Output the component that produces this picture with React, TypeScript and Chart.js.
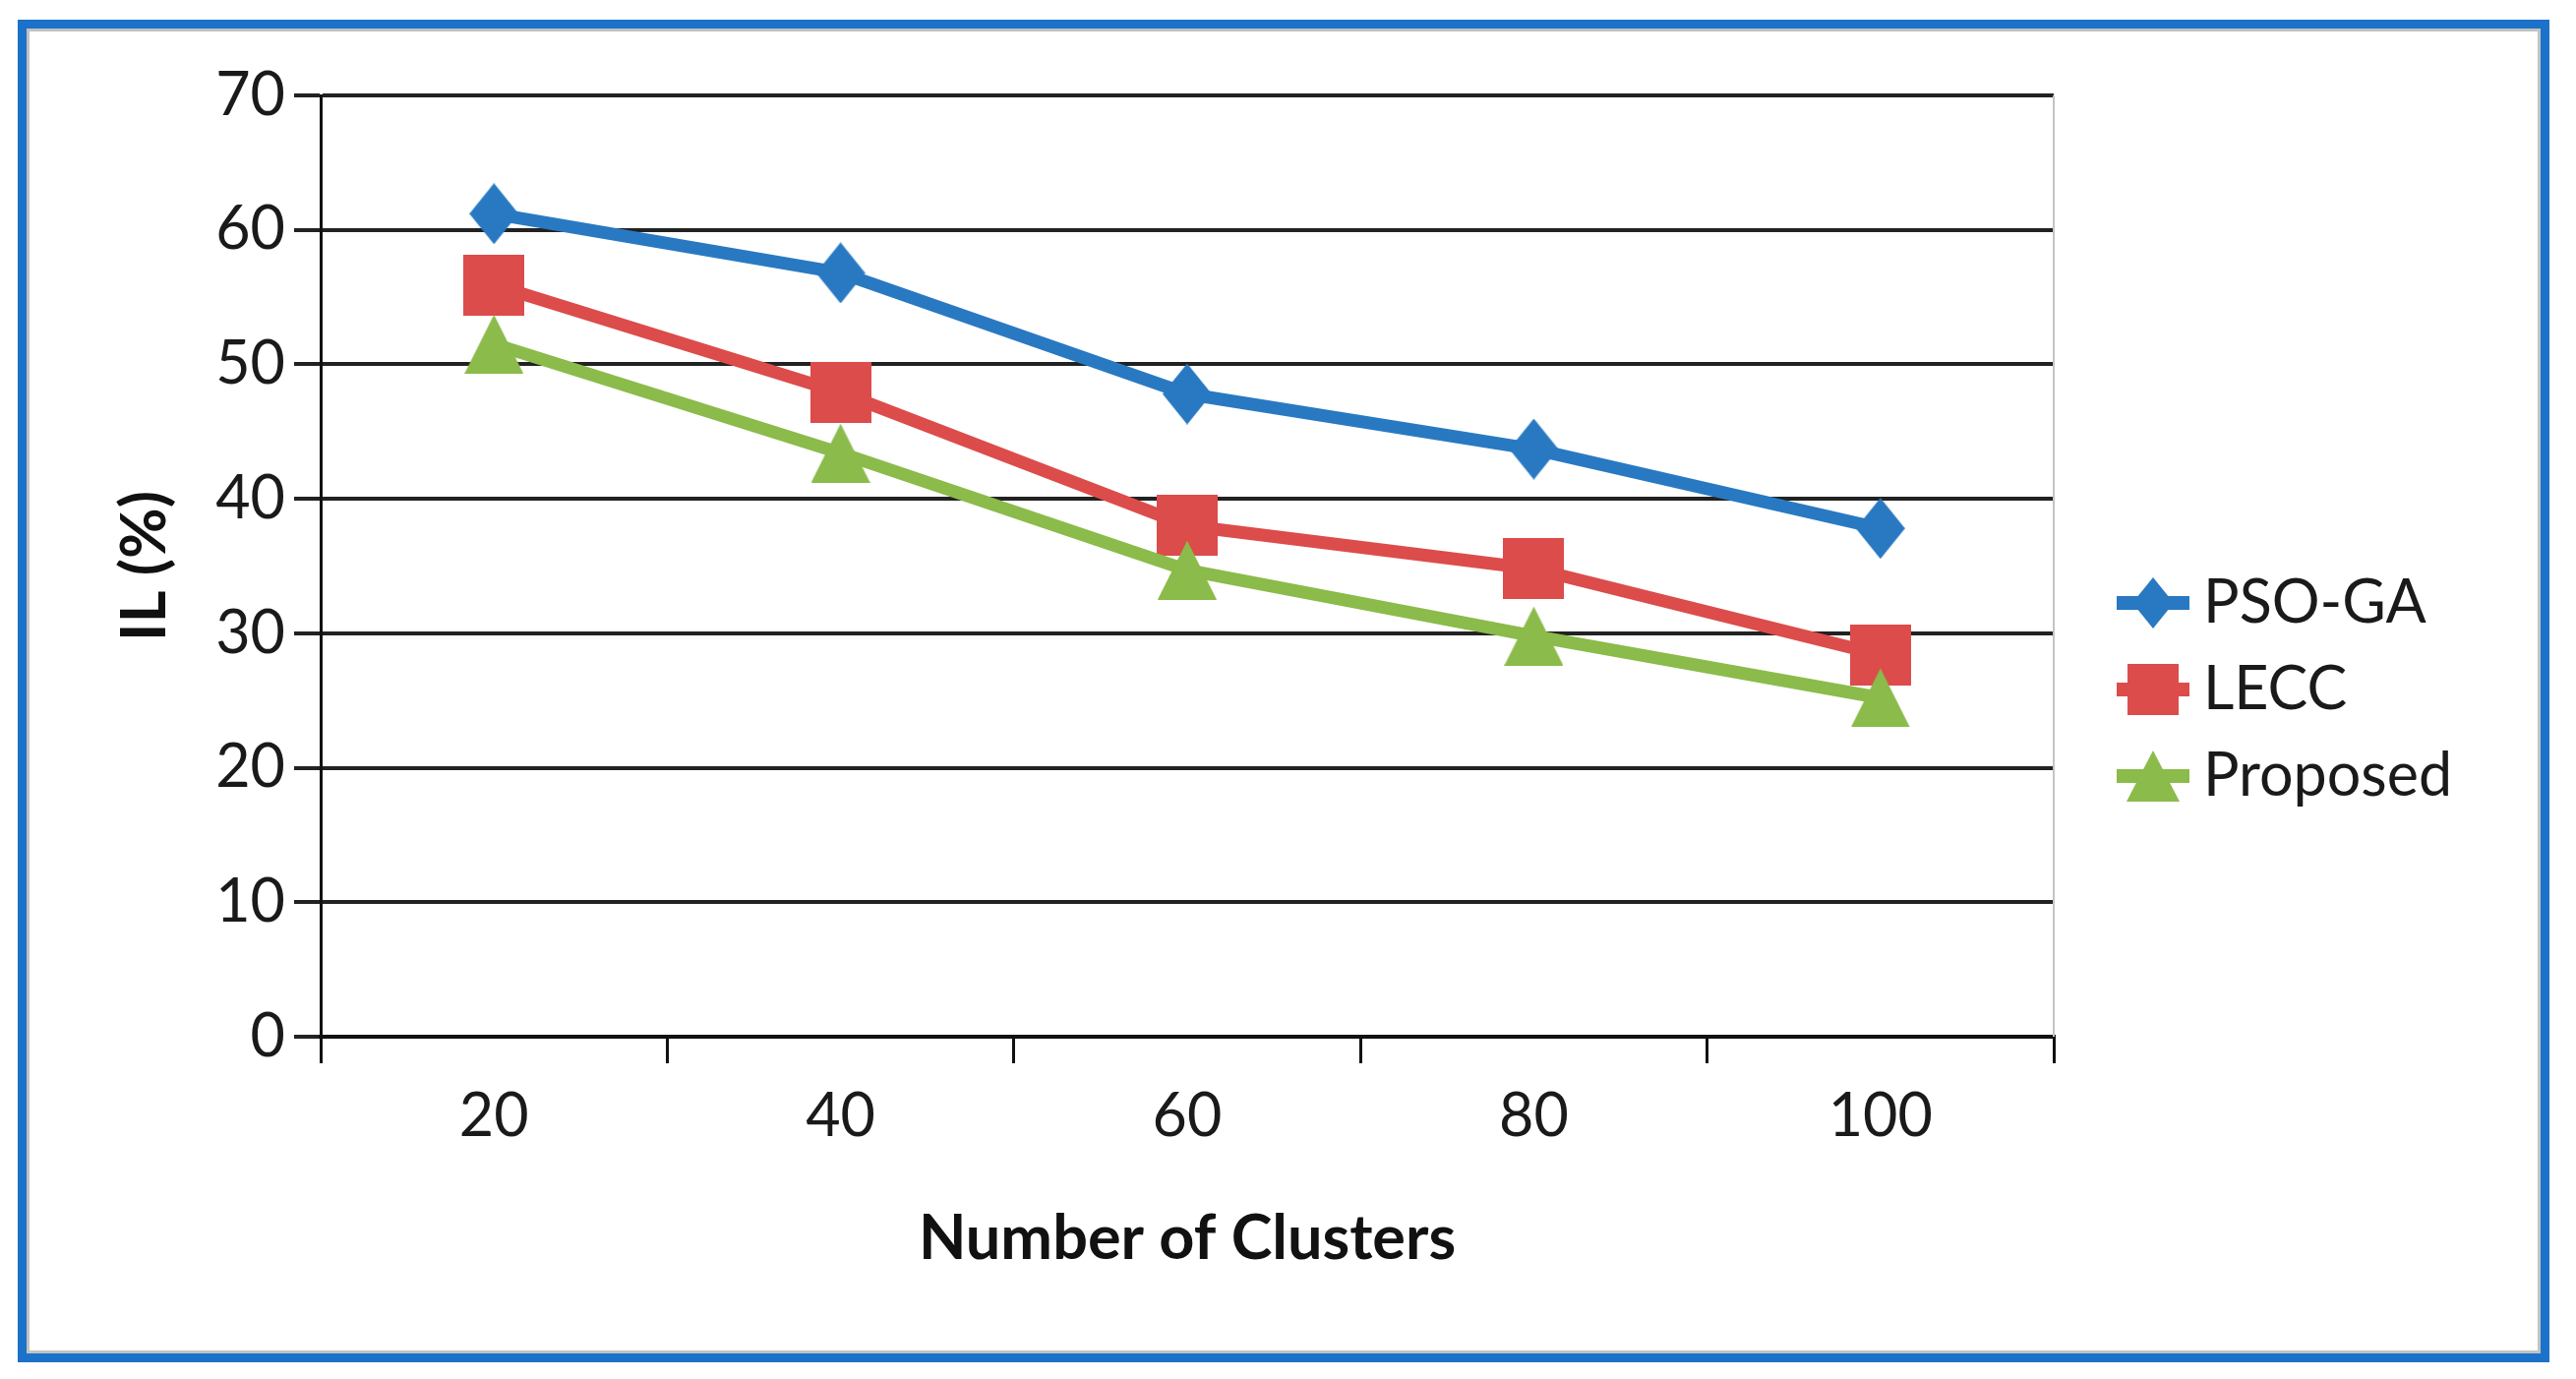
import React, { useEffect, useRef } from 'react';
import { Chart, registerables } from 'chart.js';

Chart.register(...registerables);

// ---- data ----
const categories = ['20', '40', '60', '80', '100'];
const seriesNames = ['PSO-GA', 'LECC', 'Proposed'];
const psoGa = [61.2, 56.8, 47.8, 43.7, 37.8];
const lecc = [55.9, 47.9, 38.0, 34.8, 28.4];
const proposed = [51.5, 43.4, 34.7, 29.8, 25.2];
const yMin = 0;
const yMax = 70;
const yStep = 10;
const xTitle = 'Number of Clusters';
const yTitle = 'IL (%)';

const BLUE = '#2979C2';
const RED = '#DC4C4B';
const GREEN = '#8BBB4A';
const TEXT = '#1a1a1a';
const FONT = 'Lato';

function makeMarker(shape: string, color: string, w: number, h: number) {
  const c = document.createElement('canvas');
  c.width = w;
  c.height = h;
  const ctx = c.getContext('2d') as CanvasRenderingContext2D;
  ctx.fillStyle = color;
  ctx.beginPath();
  if (shape === 'diamond') {
    ctx.moveTo(w / 2, 0);
    ctx.lineTo(w, h / 2);
    ctx.lineTo(w / 2, h);
    ctx.lineTo(0, h / 2);
  } else if (shape === 'square') {
    ctx.rect(0, 0, w, h);
  } else {
    ctx.moveTo(w / 2, 0);
    ctx.lineTo(w, h);
    ctx.lineTo(0, h);
  }
  ctx.closePath();
  ctx.fill();
  return c;
}

export default function App() {
  const ref = useRef<HTMLCanvasElement | null>(null);

  useEffect(() => {
    const canvas = ref.current;
    if (!canvas) return;

    const plotMarkers = [
      makeMarker('diamond', BLUE, 50, 62),
      makeMarker('square', RED, 62, 62),
      makeMarker('triangle', GREEN, 60, 60),
    ];
    const legendMarkers = [
      makeMarker('diamond', BLUE, 42, 52),
      makeMarker('square', RED, 52, 52),
      makeMarker('triangle', GREEN, 54, 52),
    ];

    const rightBorder = {
      id: 'rightBorder',
      beforeDatasetsDraw(chart: any) {
        const { ctx, chartArea } = chart;
        ctx.save();
        ctx.strokeStyle = '#c4c4c4';
        ctx.lineWidth = 2;
        ctx.beginPath();
        ctx.moveTo(chartArea.right, chartArea.top);
        ctx.lineTo(chartArea.right, chartArea.bottom);
        ctx.stroke();
        ctx.restore();
      },
    };

    const sideLegend = {
      id: 'sideLegend',
      afterDraw(chart: any) {
        const { ctx, chartArea } = chart;
        const cy = 672;
        const x0 = chartArea.right + 64;
        chart.data.datasets.forEach((ds: any, i: number) => {
          const y = cy + (i - 1) * 88;
          ctx.save();
          ctx.strokeStyle = ds.borderColor;
          ctx.lineWidth = 14;
          ctx.beginPath();
          ctx.moveTo(x0, y);
          ctx.lineTo(x0 + 74, y);
          ctx.stroke();
          const img = legendMarkers[i];
          ctx.drawImage(img, x0 + 37 - img.width / 2, y - img.height / 2);
          ctx.fillStyle = TEXT;
          ctx.font = `61px ${FONT}`;
          ctx.textBaseline = 'middle';
          ctx.textAlign = 'left';
          ctx.fillText(ds.label, x0 + 88, y);
          ctx.restore();
        });
      },
    };

    const values = [psoGa, lecc, proposed];
    const colors = [BLUE, RED, GREEN];

    const chart = new Chart(canvas, {
      type: 'line',
      data: {
        labels: categories,
        datasets: seriesNames.map((name, i) => ({
          label: name,
          data: values[i],
          borderColor: colors[i],
          backgroundColor: colors[i],
          borderWidth: 13,
          borderJoinStyle: 'round' as const,
          borderCapStyle: 'round' as const,
          pointStyle: plotMarkers[i] as any,
          pointRadius: 30,
          pointHoverRadius: 30,
          order: 2 - i,
          tension: 0,
        })),
      },
      options: {
        animation: false,
        responsive: false,
        maintainAspectRatio: false,
        layout: { padding: { top: 68, right: 495, left: 0, bottom: 0 } },
        plugins: {
          legend: { display: false },
          tooltip: { enabled: false },
        },
        scales: {
          x: {
            type: 'category',
            offset: true,
            grid: {
              offset: true,
              drawOnChartArea: false,
              drawTicks: true,
              tickLength: 27,
              color: '#111',
              lineWidth: 3,
            },
            border: { display: true, color: '#111', width: 4 },
            ticks: {
              font: { family: FONT, size: 61 },
              color: TEXT,
              padding: 18,
              maxRotation: 0,
              autoSkip: false,
            },
            title: {
              display: true,
              text: xTitle,
              color: '#111',
              font: { family: FONT, size: 63, weight: 'bold' },
              padding: { top: 0, bottom: 79 },
            },
            afterFit: (s: any) => {
              s.height = 322;
            },
          },
          y: {
            min: yMin,
            max: yMax,
            ticks: {
              stepSize: yStep,
              font: { family: FONT, size: 61 },
              color: TEXT,
              padding: 9,
            },
            grid: {
              color: '#222',
              lineWidth: 4,
              tickLength: 27,
              drawTicks: true,
            },
            border: { display: true, color: '#111', width: 3 },
            title: {
              display: true,
              text: yTitle,
              color: '#111',
              font: { family: FONT, size: 63, weight: 'bold' },
              padding: { top: 83, bottom: 0 },
            },
            afterFit: (s: any) => {
              s.width = 299;
            },
          },
        },
      } as any,
      plugins: [rightBorder, sideLegend],
    });

    return () => chart.destroy();
  }, []);

  return (
    <div
      style={{
        position: 'absolute',
        left: 18,
        top: 20,
        width: 2556,
        height: 1347,
        border: '9px solid #1B72C8',
        background: '#ffffff',
        boxShadow: 'inset 0 0 0 3px #c2c2c2',
      }}
    >
      <canvas ref={ref} width={2556} height={1347} style={{ display: 'block', width: 2556, height: 1347 }} />
    </div>
  );
}
